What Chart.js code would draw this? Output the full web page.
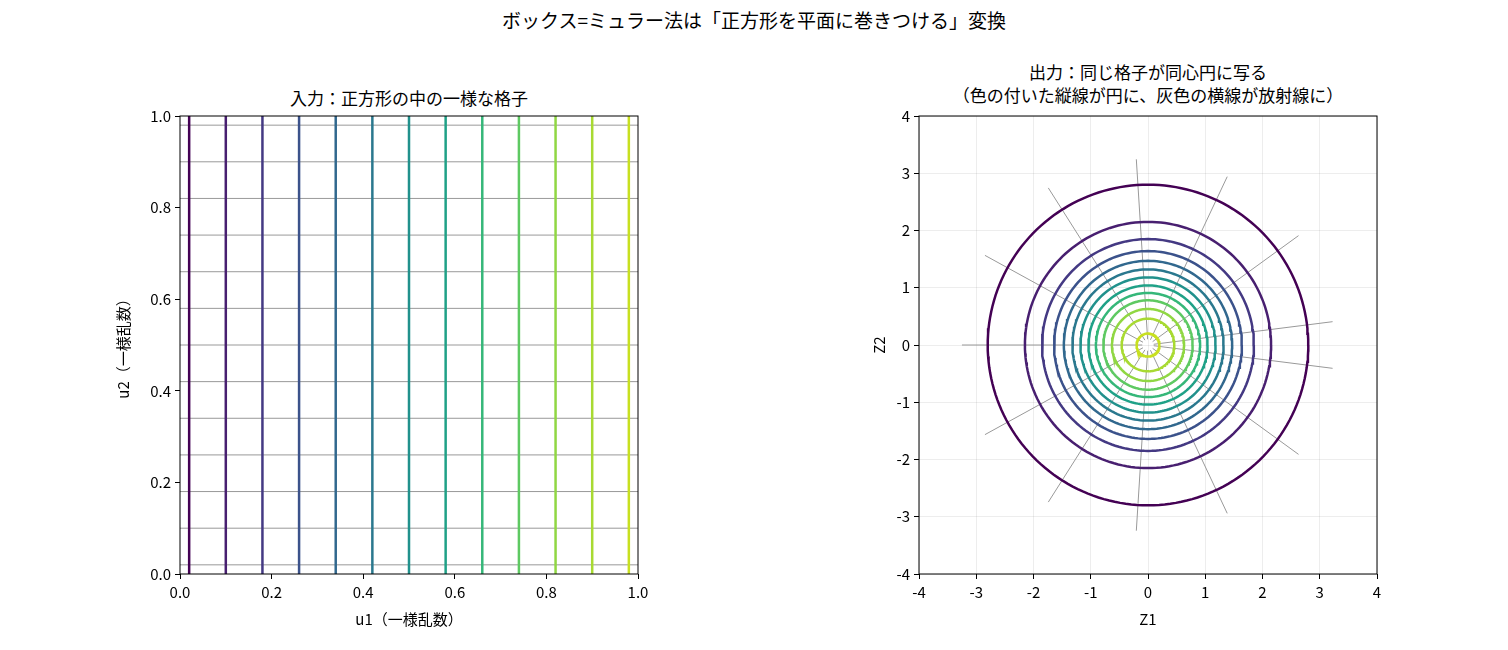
<!DOCTYPE html>
<html><head><meta charset="utf-8">
<script src="https://cdn.jsdelivr.net/npm/chart.js@4"></script>
<style>
body{margin:0;width:1508px;height:650px;background:#fff;position:relative;overflow:hidden;font-family:"Noto Sans CJK JP","Noto Sans",sans-serif;color:#000}
canvas{position:absolute;top:0}
.t{position:absolute;text-align:center;white-space:nowrap;transform:translateX(-50%);line-height:23px}
</style></head><body>
<div class="t" style="left:754px;top:8px;font-size:19px">ボックス=ミュラー法は「正方形を平面に巻きつける」変換</div>
<div class="t" style="left:409px;top:86px;font-size:17px">入力：正方形の中の一様な格子</div>
<div class="t" style="left:1148px;top:60px;font-size:17px">出力：同じ格子が同心円に写る<br>（色の付いた縦線が円に、灰色の横線が放射線に）</div>
<canvas id="left" width="754" height="650" style="left:0;width:754px;height:650px"></canvas>
<canvas id="right" width="754" height="650" style="left:754px;width:754px;height:650px"></canvas>
<script>
const u1 = [0.02,0.10,0.18,0.26,0.34,0.42,0.50,0.58,0.66,0.74,0.82,0.90,0.98];
const u2 = [0.02,0.10,0.18,0.26,0.34,0.42,0.50,0.58,0.66,0.74,0.82,0.90,0.98];
const colors = ['#440154','#481f70','#443983','#3b528b','#31688e','#2a788e','#21918c','#1fa187','#35b779','#5ec962','#90d743','#a8da32','#c8e020'];
// radius of each circle (one per u1 line)
const radii = [2.80,2.15,1.85,1.64,1.47,1.32,1.18,1.04,0.91,0.78,0.63,0.46,0.20];
// direction of each gray ray in degrees (one per u2 line)
const rayAngles = [7.2,36,64.8,93.6,122.4,151.2,180,208.8,237.6,266.4,295.2,324,352.8];
const rayInner = 0.10, rayOuter = 3.25;

const font = {family:'"Noto Sans CJK JP","Noto Sans",sans-serif', size:15};
const frame = {id:'frame', afterDraw(c){const a=c.chartArea,x=c.ctx;x.save();x.strokeStyle='#000';x.lineWidth=1;x.strokeRect(a.left,a.top,a.right-a.left,a.bottom-a.top);x.restore();}};

function axis(min,max,step,title,isY,fmt,grid,fitSize){
  return {type:'linear',min,max,
    ticks:{stepSize:step,color:'#000',font,callback:fmt,padding:4},
    grid:{drawOnChartArea:grid,color:grid?'rgba(0,0,0,0.07)':'#000',tickColor:'#000',tickLength:5},
    border:{display:false},
    title:{display:true,text:title,color:'#000',font:{...font,size:15},padding:{top:2,bottom:4}},
    afterFit(s){ if(isY) s.width=fitSize; else s.height=fitSize; }};
}
const baseOpts = (l,r)=>({responsive:false,animation:false,
  layout:{padding:{top:116,right:r,left:l,bottom:18}},
  plugins:{legend:{display:false},tooltip:{enabled:false}},
  elements:{point:{radius:0}}});

// left
const leftSets = [];
u2.forEach(v=>leftSets.push({data:[{x:0,y:v},{x:1,y:v}],borderColor:'#999',borderWidth:1,showLine:true,order:2}));
u1.forEach((v,i)=>leftSets.push({data:[{x:v,y:0},{x:v,y:1}],borderColor:colors[i],borderWidth:2.5,showLine:true,order:1}));
const lo = baseOpts(112,116);
lo.scales = {x:axis(0,1,0.2,'u1（一様乱数）',false,v=>v.toFixed(1),false,58),
             y:axis(0,1,0.2,'u2（一様乱数）',true,v=>v.toFixed(1),false,68)};
new Chart(document.getElementById('left'),{type:'scatter',data:{datasets:leftSets},options:lo,plugins:[frame]});

// right
const rightSets = [];
rayAngles.forEach(a=>{const t=a*Math.PI/180;
  rightSets.push({data:[{x:rayInner*Math.cos(t),y:rayInner*Math.sin(t)},{x:rayOuter*Math.cos(t),y:rayOuter*Math.sin(t)}],borderColor:'#999',borderWidth:1,showLine:true,order:2});});
radii.forEach((r,i)=>{const pts=[];for(let k=0;k<=180;k++){const t=k*Math.PI/90;pts.push({x:r*Math.cos(t),y:r*Math.sin(t)});}
  rightSets.push({data:pts,borderColor:colors[i],borderWidth:2.5,showLine:true,order:1});});
const ro = baseOpts(114,131);
ro.scales = {x:axis(-4,4,1,'Z1',false,v=>String(v),true,58),
             y:axis(-4,4,1,'Z2',true,v=>String(v),true,51)};
new Chart(document.getElementById('right'),{type:'scatter',data:{datasets:rightSets},options:ro,plugins:[frame]});
</script></body></html>
